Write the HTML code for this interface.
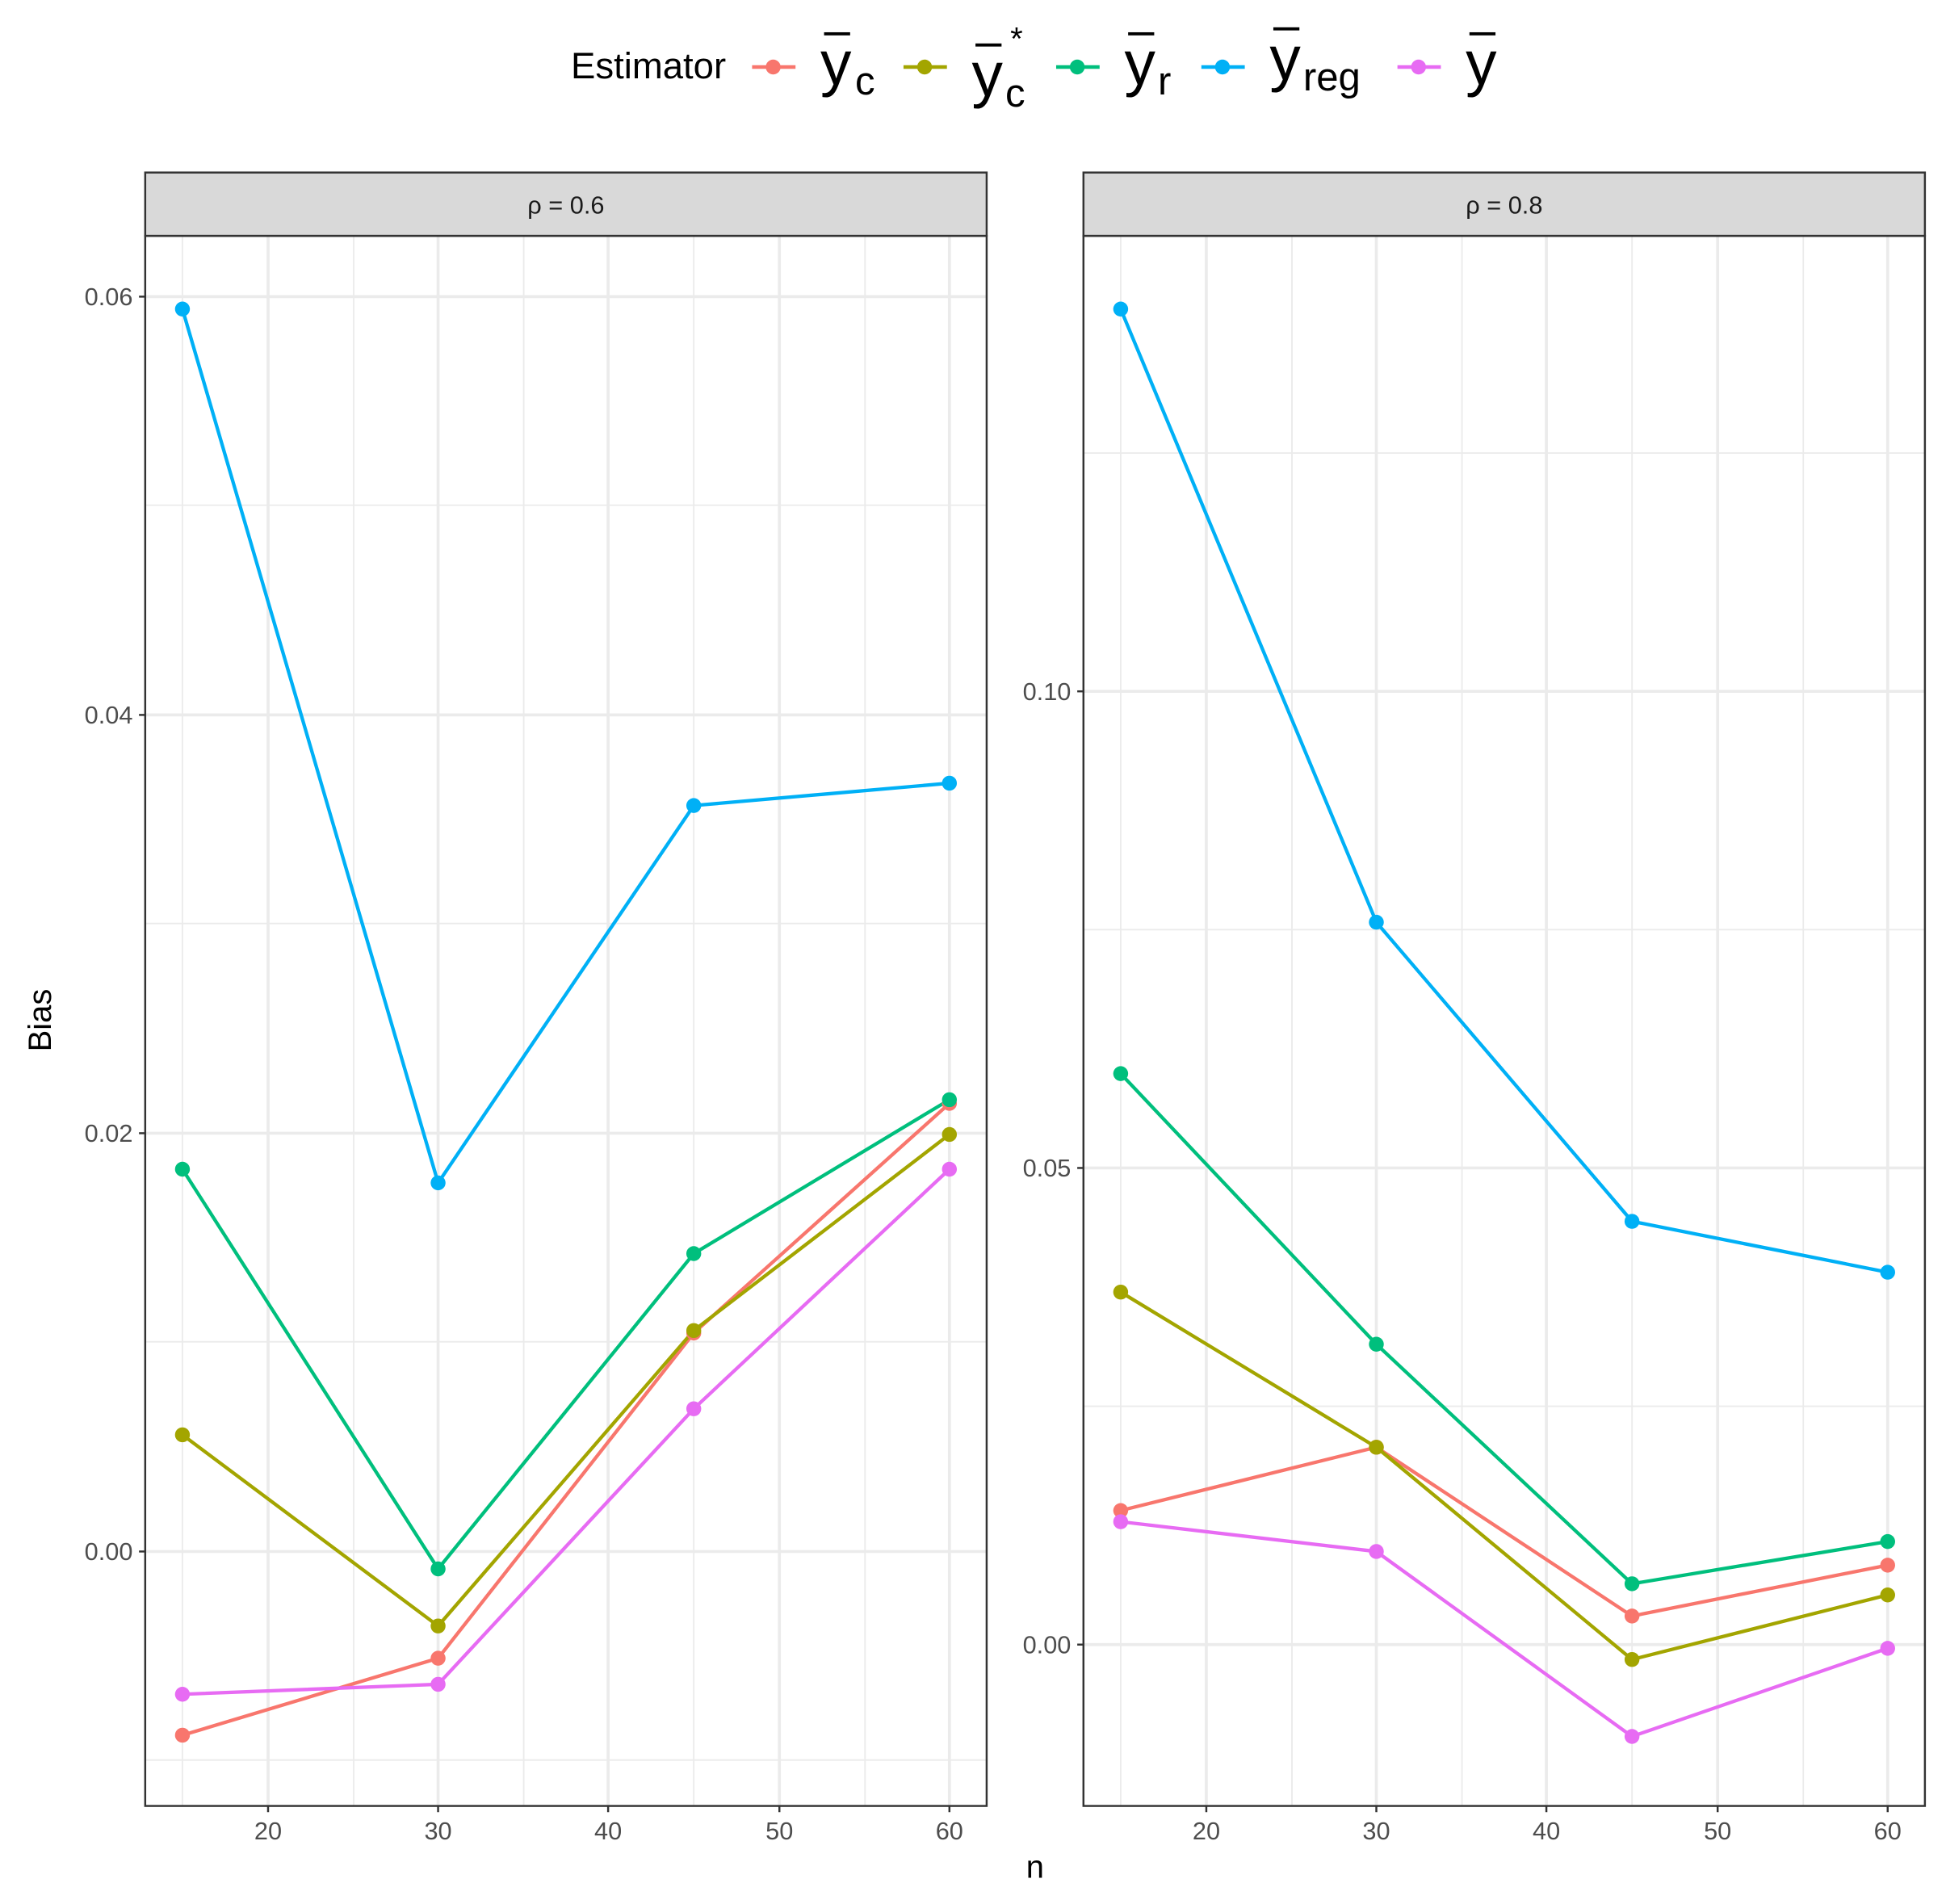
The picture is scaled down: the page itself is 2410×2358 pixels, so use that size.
<!DOCTYPE html>
<html><head><meta charset="utf-8"><style>
html,body{margin:0;padding:0;background:#fff;}
svg{display:block;}
text{font-family:"Liberation Sans",sans-serif;}
</style></head><body>
<svg width="2410" height="2358" viewBox="0 0 1568 1534" preserveAspectRatio="none" xmlns="http://www.w3.org/2000/svg">
<rect width="1568" height="1534" fill="#fff"/>
<!-- Legend -->
<text x="460" y="63" font-size="29.6" fill="#000" textLength="125" lengthAdjust="spacingAndGlyphs">Estimator</text>
<g stroke-width="3">
<line x1="606" y1="54" x2="641" y2="54" stroke="#F8766D"/><circle cx="623" cy="54" r="6" fill="#F8766D"/>
<line x1="728" y1="54" x2="763" y2="54" stroke="#A3A500"/><circle cx="745" cy="54" r="6" fill="#A3A500"/>
<line x1="851" y1="54" x2="886" y2="54" stroke="#00BF7D"/><circle cx="868" cy="54" r="6" fill="#00BF7D"/>
<line x1="968" y1="54" x2="1003" y2="54" stroke="#00B0F6"/><circle cx="985" cy="54" r="6" fill="#00B0F6"/>
<line x1="1126" y1="54" x2="1161" y2="54" stroke="#E76BF3"/><circle cx="1143" cy="54" r="6" fill="#E76BF3"/>
</g>
<g fill="#000">
<text x="661" y="68" font-size="50">y</text><rect x="664" y="26" width="21" height="2.5"/><text x="689" y="76" font-size="32">c</text>
<text x="783" y="77" font-size="50">y</text><rect x="786" y="35" width="21" height="2.5"/><text x="810" y="86" font-size="32">c</text><text x="814" y="40" font-size="26">*</text>
<text x="906" y="68" font-size="50">y</text><rect x="909" y="26" width="21" height="2.5"/><text x="933" y="76" font-size="32">r</text>
<text x="1023" y="64" font-size="50">y</text><rect x="1026" y="22" width="21" height="2.5"/><text x="1050" y="73" font-size="32">reg</text>
<text x="1181" y="68" font-size="50">y</text><rect x="1184" y="26" width="21" height="2.5"/>
</g>
<!-- Left panel -->
<g>
<rect x="117" y="190" width="678" height="1265" fill="#fff"/>
<g stroke="#EBEBEB" stroke-width="1.2">
<line x1="117" y1="407" x2="795" y2="407"/><line x1="117" y1="744" x2="795" y2="744"/><line x1="117" y1="1081" x2="795" y2="1081"/><line x1="117" y1="1418" x2="795" y2="1418"/>
<line x1="147" y1="190" x2="147" y2="1455"/><line x1="285" y1="190" x2="285" y2="1455"/><line x1="422" y1="190" x2="422" y2="1455"/><line x1="559" y1="190" x2="559" y2="1455"/><line x1="697" y1="190" x2="697" y2="1455"/>
</g>
<g stroke="#EBEBEB" stroke-width="2.4">
<line x1="117" y1="239" x2="795" y2="239"/><line x1="117" y1="576" x2="795" y2="576"/><line x1="117" y1="913" x2="795" y2="913"/><line x1="117" y1="1250" x2="795" y2="1250"/>
<line x1="216" y1="190" x2="216" y2="1455"/><line x1="353" y1="190" x2="353" y2="1455"/><line x1="490" y1="190" x2="490" y2="1455"/><line x1="628" y1="190" x2="628" y2="1455"/><line x1="765" y1="190" x2="765" y2="1455"/>
</g>
<g fill="none" stroke-width="2.8" stroke-linejoin="round">
<polyline stroke="#F8766D" points="147,1398 353,1336 559,1074 765,889"/>
<polyline stroke="#A3A500" points="147,1156 353,1310 559,1072 765,914"/>
<polyline stroke="#00BF7D" points="147,942 353,1264 559,1010 765,886"/>
<polyline stroke="#00B0F6" points="147,249 353,953 559,649 765,631"/>
<polyline stroke="#E76BF3" points="147,1365 353,1357 559,1135 765,942"/>
</g>
<g>
<g fill="#F8766D"><circle cx="147" cy="1398" r="6"/><circle cx="353" cy="1336" r="6"/><circle cx="559" cy="1074" r="6"/><circle cx="765" cy="889" r="6"/></g>
<g fill="#A3A500"><circle cx="147" cy="1156" r="6"/><circle cx="353" cy="1310" r="6"/><circle cx="559" cy="1072" r="6"/><circle cx="765" cy="914" r="6"/></g>
<g fill="#00BF7D"><circle cx="147" cy="942" r="6"/><circle cx="353" cy="1264" r="6"/><circle cx="559" cy="1010" r="6"/><circle cx="765" cy="886" r="6"/></g>
<g fill="#00B0F6"><circle cx="147" cy="249" r="6"/><circle cx="353" cy="953" r="6"/><circle cx="559" cy="649" r="6"/><circle cx="765" cy="631" r="6"/></g>
<g fill="#E76BF3"><circle cx="147" cy="1365" r="6"/><circle cx="353" cy="1357" r="6"/><circle cx="559" cy="1135" r="6"/><circle cx="765" cy="942" r="6"/></g>
</g>
<rect x="117" y="190" width="678" height="1265" fill="none" stroke="#333" stroke-width="1.6"/>
<rect x="117" y="139" width="678" height="51" fill="#D9D9D9" stroke="#333" stroke-width="1.6"/>
<text x="456" y="172" font-size="20" fill="#1A1A1A" text-anchor="middle">ρ = 0.6</text>
<g stroke="#333" stroke-width="1.6">
<line x1="112" y1="239" x2="117" y2="239"/><line x1="112" y1="576" x2="117" y2="576"/><line x1="112" y1="913" x2="117" y2="913"/><line x1="112" y1="1250" x2="117" y2="1250"/>
<line x1="216" y1="1455" x2="216" y2="1460"/><line x1="353" y1="1455" x2="353" y2="1460"/><line x1="490" y1="1455" x2="490" y2="1460"/><line x1="628" y1="1455" x2="628" y2="1460"/><line x1="765" y1="1455" x2="765" y2="1460"/>
</g>
<g font-size="20" fill="#4D4D4D" text-anchor="end">
<text x="107" y="246">0.06</text><text x="107" y="583">0.04</text><text x="107" y="920">0.02</text><text x="107" y="1257">0.00</text>
</g>
<g font-size="20" fill="#4D4D4D" text-anchor="middle">
<text x="216" y="1482">20</text><text x="353" y="1482">30</text><text x="490" y="1482">40</text><text x="628" y="1482">50</text><text x="765" y="1482">60</text>
</g>
</g>
<!-- Right panel -->
<g>
<g stroke="#EBEBEB" stroke-width="1.2">
<line x1="873" y1="365" x2="1551" y2="365"/><line x1="873" y1="749" x2="1551" y2="749"/><line x1="873" y1="1133" x2="1551" y2="1133"/>
<line x1="903" y1="190" x2="903" y2="1455"/><line x1="1041" y1="190" x2="1041" y2="1455"/><line x1="1178" y1="190" x2="1178" y2="1455"/><line x1="1315" y1="190" x2="1315" y2="1455"/><line x1="1453" y1="190" x2="1453" y2="1455"/>
</g>
<g stroke="#EBEBEB" stroke-width="2.4">
<line x1="873" y1="557" x2="1551" y2="557"/><line x1="873" y1="941" x2="1551" y2="941"/><line x1="873" y1="1325" x2="1551" y2="1325"/>
<line x1="972" y1="190" x2="972" y2="1455"/><line x1="1109" y1="190" x2="1109" y2="1455"/><line x1="1246" y1="190" x2="1246" y2="1455"/><line x1="1384" y1="190" x2="1384" y2="1455"/><line x1="1521" y1="190" x2="1521" y2="1455"/>
</g>
<g fill="none" stroke-width="2.8" stroke-linejoin="round">
<polyline stroke="#F8766D" points="903,1217 1109,1166 1315,1302 1521,1261"/>
<polyline stroke="#A3A500" points="903,1041 1109,1166 1315,1337 1521,1285"/>
<polyline stroke="#00BF7D" points="903,865 1109,1083 1315,1276 1521,1242"/>
<polyline stroke="#00B0F6" points="903,249 1109,743 1315,984 1521,1025"/>
<polyline stroke="#E76BF3" points="903,1226 1109,1250 1315,1399 1521,1328"/>
</g>
<g>
<g fill="#F8766D"><circle cx="903" cy="1217" r="6"/><circle cx="1109" cy="1166" r="6"/><circle cx="1315" cy="1302" r="6"/><circle cx="1521" cy="1261" r="6"/></g>
<g fill="#A3A500"><circle cx="903" cy="1041" r="6"/><circle cx="1109" cy="1166" r="6"/><circle cx="1315" cy="1337" r="6"/><circle cx="1521" cy="1285" r="6"/></g>
<g fill="#00BF7D"><circle cx="903" cy="865" r="6"/><circle cx="1109" cy="1083" r="6"/><circle cx="1315" cy="1276" r="6"/><circle cx="1521" cy="1242" r="6"/></g>
<g fill="#00B0F6"><circle cx="903" cy="249" r="6"/><circle cx="1109" cy="743" r="6"/><circle cx="1315" cy="984" r="6"/><circle cx="1521" cy="1025" r="6"/></g>
<g fill="#E76BF3"><circle cx="903" cy="1226" r="6"/><circle cx="1109" cy="1250" r="6"/><circle cx="1315" cy="1399" r="6"/><circle cx="1521" cy="1328" r="6"/></g>
</g>
<rect x="873" y="190" width="678" height="1265" fill="none" stroke="#333" stroke-width="1.6"/>
<rect x="873" y="139" width="678" height="51" fill="#D9D9D9" stroke="#333" stroke-width="1.6"/>
<text x="1212" y="172" font-size="20" fill="#1A1A1A" text-anchor="middle">ρ = 0.8</text>
<g stroke="#333" stroke-width="1.6">
<line x1="868" y1="557" x2="873" y2="557"/><line x1="868" y1="941" x2="873" y2="941"/><line x1="868" y1="1325" x2="873" y2="1325"/>
<line x1="972" y1="1455" x2="972" y2="1460"/><line x1="1109" y1="1455" x2="1109" y2="1460"/><line x1="1246" y1="1455" x2="1246" y2="1460"/><line x1="1384" y1="1455" x2="1384" y2="1460"/><line x1="1521" y1="1455" x2="1521" y2="1460"/>
</g>
<g font-size="20" fill="#4D4D4D" text-anchor="end">
<text x="863" y="564">0.10</text><text x="863" y="948">0.05</text><text x="863" y="1332">0.00</text>
</g>
<g font-size="20" fill="#4D4D4D" text-anchor="middle">
<text x="972" y="1482">20</text><text x="1109" y="1482">30</text><text x="1246" y="1482">40</text><text x="1384" y="1482">50</text><text x="1521" y="1482">60</text>
</g>
</g>
<text x="834" y="1513" font-size="26" fill="#000" text-anchor="middle">n</text>
<text transform="translate(41,822) rotate(-90)" font-size="26" fill="#000" text-anchor="middle">Bias</text>
</svg>
</body></html>
